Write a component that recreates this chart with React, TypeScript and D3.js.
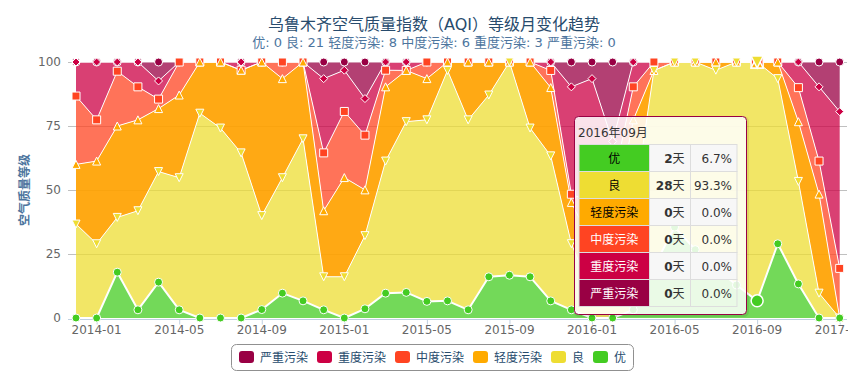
import * as d3 from "d3";

const WIDTH = 864;
const HEIGHT = 384;
const PLOT = { left: 68, right: 847, top: 62, bottom: 318 };
const FONT = "'DejaVu Sans', 'Noto Sans CJK SC', sans-serif";

const MONTHS = [
  "2013-12", "2014-01", "2014-02", "2014-03", "2014-04", "2014-05", "2014-06", "2014-07",
  "2014-08", "2014-09", "2014-10", "2014-11", "2014-12", "2015-01", "2015-02", "2015-03",
  "2015-04", "2015-05", "2015-06", "2015-07", "2015-08", "2015-09", "2015-10", "2015-11",
  "2015-12", "2016-01", "2016-02", "2016-03", "2016-04", "2016-05", "2016-06", "2016-07",
  "2016-08", "2016-09", "2016-10", "2016-11", "2016-12", "2017-01",
];
const TICK_MONTHS = [
  "2014-01", "2014-05", "2014-09", "2015-01", "2015-05",
  "2015-09", "2016-01", "2016-05", "2016-09", "2017-01",
];
const Y_TICKS = [0, 25, 50, 75, 100];

// share of days per month (%)
const EXCELLENT = [0, 0, 17.9, 3.2, 14.0, 3.2, 0, 0, 0, 3.3, 9.7, 6.7, 3.2, 0, 3.6, 9.7, 10, 6.5, 6.7, 3.2, 16.1, 16.7, 16.1, 6.7, 3.2, 0, 0, 3.2, 20, 35.5, 26.7, 19.4, 12.9, 6.7, 29.0, 13.3, 0, 0];
const GOOD = [36.7, 29.0, 21.4, 38.7, 43.2, 51.6, 80, 74.2, 64.5, 36.7, 45.1, 63.3, 12.9, 16.1, 28.6, 51.6, 66.7, 71.0, 90, 74.2, 71.0, 83.3, 58.1, 56.7, 25.8, 9.7, 20.7, 38.7, 76.7, 64.5, 73.3, 77.4, 87.1, 93.3, 64.5, 40, 9.7, 0];
const LIGHT = [23.3, 32.3, 35.7, 35.5, 24.6, 32.3, 20, 25.8, 32.3, 60, 38.7, 30, 25.8, 38.7, 17.9, 29.0, 20, 16.1, 3.3, 22.6, 12.9, 0, 25.8, 26.7, 16.1, 19.4, 13.8, 35.5, 0, 0, 0, 3.2, 0, 0, 6.5, 23.3, 38.7, 0];
const MODERATE = [26.7, 16.1, 21.4, 12.9, 3.7, 12.9, 0, 0, 0, 0, 6.5, 0, 22.6, 25.8, 21.4, 6.5, 0, 6.5, 0, 0, 0, 0, 0, 6.7, 3.2, 16.1, 17.2, 12.9, 3.3, 0, 0, 0, 0, 0, 0, 13.3, 12.9, 19.4];
const HEAVY = [13.3, 22.6, 3.6, 9.7, 7.1, 0, 0, 0, 3.2, 0, 0, 0, 29.0, 16.1, 14.3, 3.2, 3.3, 0, 0, 0, 0, 0, 0, 3.3, 41.9, 48.4, 17.2, 9.7, 0, 0, 0, 0, 0, 0, 0, 10, 29.0, 61.3];
const SEVERE = [0, 0, 0, 0, 7.4, 0, 0, 0, 0, 0, 0, 0, 6.5, 3.2, 14.3, 0, 0, 0, 0, 0, 0, 0, 0, 0, 9.7, 6.5, 31.0, 0, 0, 0, 0, 0, 0, 0, 0, 0, 9.7, 19.4];

// legend / series order (Highcharts series index order)
const SERIES = [
  { key: "严重污染", values: SEVERE, color: "#990044", fill: "#990044", symbol: "circle", textColor: "#fff" },
  { key: "重度污染", values: HEAVY, color: "#cc0044", fill: "#cc0044", symbol: "diamond", textColor: "#fff" },
  { key: "中度污染", values: MODERATE, color: "#ff4422", fill: "#ff4422", symbol: "square", textColor: "#fff" },
  { key: "轻度污染", values: LIGHT, color: "#ffaa00", fill: "#ffa200", symbol: "triangle", textColor: "#000" },
  { key: "良", values: GOOD, color: "#eedd33", fill: "#eedd33", symbol: "triangle-down", textColor: "#000" },
  { key: "优", values: EXCELLENT, color: "#44cc22", fill: "#44cc22", symbol: "circle", textColor: "#000" },
];

const TITLE = "乌鲁木齐空气质量指数（AQI）等级月变化趋势";
const SUBTITLE = "优: 0 良: 21 轻度污染: 8 中度污染: 6 重度污染: 3 严重污染: 0";
const Y_TITLE = "空气质量等级";

const HOVER_MONTH = "2016-09";
const HOVER_LABEL = "2016年09月";
const TOOLTIP_ROWS = ["优", "良", "轻度污染", "中度污染", "重度污染", "严重污染"];
const TOOLTIP_DAYS = [2, 28, 0, 0, 0, 0];

function markerPath(symbol: string, cx: number, cy: number, r: number) {
  switch (symbol) {
    case "square":
      return `M${cx - r},${cy - r}H${cx + r}V${cy + r}H${cx - r}Z`;
    case "triangle":
      return `M${cx},${cy - r}L${cx + r},${cy + r}L${cx - r},${cy + r}Z`;
    case "triangle-down":
      return `M${cx - r},${cy - r}L${cx + r},${cy - r}L${cx},${cy + r}Z`;
    case "diamond":
      return `M${cx},${cy - r}L${cx + r},${cy}L${cx},${cy + r}L${cx - r},${cy}Z`;
    default:
      return `M${cx - r},${cy}a${r},${r} 0 1,0 ${2 * r},0a${r},${r} 0 1,0 ${-2 * r},0Z`;
  }
}

export default function App() {
  const table = MONTHS.map((month, i) => {
    const row: any = { month };
    SERIES.forEach((s) => (row[s.key] = s.values[i]));
    return row;
  });

  const stackKeys = SERIES.map((s) => s.key).reverse();
  const stacked = d3.stack().keys(stackKeys).offset(d3.stackOffsetExpand)(table);
  const byKey: Record<string, any> = {};
  stacked.forEach((layer) => (byKey[layer.key] = layer));

  const x = d3.scalePoint().domain(MONTHS).range([76, 839.7]);
  const y = d3.scaleLinear().domain([0, 100]).range([PLOT.bottom, PLOT.top]);

  const area = d3
    .area<any>()
    .x((d) => x(d.data.month) as number)
    .y0((d) => y(d[0] * 100))
    .y1((d) => y(d[1] * 100));
  const line = d3
    .line<any>()
    .x((d) => x(d.data.month) as number)
    .y((d) => y(d[1] * 100));

  const hoverIndex = MONTHS.indexOf(HOVER_MONTH);
  const hoverX = x(HOVER_MONTH) as number;

  // legend layout
  let lx = 239;
  const legendItems = SERIES.map((s) => {
    const item = { ...s, x: lx };
    lx += 15 + 6 + s.key.length * 12 + 9;
    return item;
  });

  // tooltip layout
  const tip = { x: 574, y: 116, w: 172, h: 198 };
  const cols = [579, 649.5, 690.5, 737];
  const rowTop = 144.5;
  const rowH = 27;
  const totalDays = d3.sum(TOOLTIP_DAYS);

  return (
    <svg
      width={WIDTH}
      height={HEIGHT}
      style={{ position: "absolute", left: 0, top: 0, fontFamily: FONT }}
    >
      <defs>
        <clipPath id="chart-clip">
          <rect x={0} y={0} width={848} height={HEIGHT} />
        </clipPath>
      </defs>
      <rect width={WIDTH} height={HEIGHT} fill="#fff" />
      <text x={434} y={30} textAnchor="middle" fontSize={16} fill="#274b6d">
        {TITLE}
      </text>
      <text x={434} y={47} textAnchor="middle" fontSize={13} fill="#4d759e">
        {SUBTITLE}
      </text>

      {Y_TICKS.map((t) => (
        <g key={`y-${t}`}>
          {t > 0 && (
            <line x1={PLOT.left} x2={PLOT.right} y1={y(t) + 0.5} y2={y(t) + 0.5} stroke="#c0c0c0" />
          )}
          <text x={61} y={y(t) + 4} textAnchor="end" fontSize={12} fill="#666">
            {t}
          </text>
        </g>
      ))}
      <text
        transform={`translate(29 ${(PLOT.top + PLOT.bottom) / 2}) rotate(-90)`}
        textAnchor="middle"
        fontSize={12}
        fontWeight="bold"
        fill="#4d759e"
      >
        {Y_TITLE}
      </text>

      {SERIES.map((s) => (
        <path
          key={`area-${s.key}`}
          d={area(byKey[s.key]) || ""}
          fill={s.fill}
          fillOpacity={s.symbol === "triangle" ? 0.92 : 0.75}
        />
      ))}
      {SERIES.map((s) => (
        <path
          key={`line-${s.key}`}
          d={line(byKey[s.key]) || ""}
          fill="none"
          stroke="#fff"
          strokeWidth={s.key === "优" ? 2 : 1}
          strokeLinejoin="round"
        />
      ))}

      <line x1={PLOT.left} x2={PLOT.right} y1={319.5} y2={319.5} stroke="#c0d0e0" />
      <g clipPath="url(#chart-clip)">
        {TICK_MONTHS.map((m) => (
          <g key={`x-${m}`}>
            <line x1={(x(m) as number) + 0.5} x2={(x(m) as number) + 0.5} y1={319.5} y2={324.5} stroke="#c0d0e0" />
            <text x={x(m)} y={334} textAnchor="middle" fontSize={12} fill="#666">
              {m}
            </text>
          </g>
        ))}
      </g>

      {SERIES.map((s) => (
        <g key={`markers-${s.key}`}>
          {byKey[s.key].map((d: any, i: number) =>
            i === hoverIndex ? null : (
              <path
                key={i}
                d={markerPath(s.symbol, x(d.data.month) as number, y(d[1] * 100), 4)}
                fill={s.color}
                stroke="#fff"
                strokeWidth={1}
              />
            ),
          )}
        </g>
      ))}
      {SERIES.map((s) => (
        <path
          key={`hover-${s.key}`}
          d={markerPath(s.symbol, hoverX, y(byKey[s.key][hoverIndex][1] * 100), 6)}
          fill={s.color}
          stroke="#fff"
          strokeWidth={1.5}
        />
      ))}

      {/* legend */}
      <rect x={231.5} y={344.5} width={402} height={26} rx={5} fill="none" stroke="#909090" />
      {legendItems.map((item) => (
        <g key={`legend-${item.key}`}>
          <rect x={item.x} y={351} width={15} height={12} rx={3} fill={item.color} />
          <text x={item.x + 21} y={362} fontSize={12} fill="#274b6d">
            {item.key}
          </text>
        </g>
      ))}

      {/* tooltip */}
      <rect x={tip.x + 1.5} y={tip.y + 1.5} width={tip.w} height={tip.h} rx={4} fill="none" stroke="rgba(0,0,0,0.08)" strokeWidth={3} />
      <rect x={tip.x + 0.5} y={tip.y + 0.5} width={tip.w} height={tip.h} rx={4} fill="rgba(255,255,255,0.85)" stroke="#990044" />
      <text x={578} y={137} fontSize={12} fill="#333">
        {HOVER_LABEL}
      </text>
      {TOOLTIP_ROWS.map((name, i) => {
        const s = SERIES.find((d) => d.key === name)!;
        const top = rowTop + i * rowH;
        const days = TOOLTIP_DAYS[i];
        const pct = ((days / totalDays) * 100).toFixed(1) + "%";
        return (
          <g key={`tip-${name}`}>
            <rect x={cols[0]} y={top} width={cols[1] - cols[0]} height={rowH} fill={s.color} stroke="#ddd" />
            <rect x={cols[1]} y={top} width={cols[2] - cols[1]} height={rowH} fill={i % 2 === 0 ? "#f7f7f7" : "none"} stroke="#ddd" />
            <rect x={cols[2]} y={top} width={cols[3] - cols[2]} height={rowH} fill={i % 2 === 0 ? "#f7f7f7" : "none"} stroke="#ddd" />
            <text x={(cols[0] + cols[1]) / 2} y={top + 18} textAnchor="middle" fontSize={12} fill={s.textColor}>
              {name}
            </text>
            <text x={cols[2] - 6} y={top + 18} textAnchor="end" fontSize={12} fill="#333">
              <tspan fontWeight="bold">{days}</tspan>天
            </text>
            <text x={cols[3] - 5} y={top + 18} textAnchor="end" fontSize={12} fill="#333">
              {pct}
            </text>
          </g>
        );
      })}
    </svg>
  );
}
